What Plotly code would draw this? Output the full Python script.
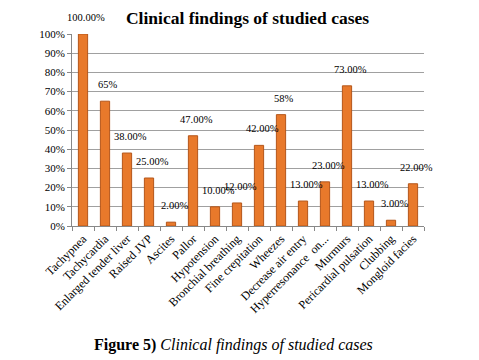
import plotly.graph_objects as go

categories = ["Tachypnea", "Tachycardia", "Enlarged tender liver", "Raised JVP", "Ascites",
              "Pallor", "Hypotension", "Bronchial breathing", "Fine crepitation", "Wheezes",
              "Decrease air entry", "Hyperresonance  on...", "Murmurs", "Pericardial pulsation",
              "Clubbing", "Mongloid facies"]
values = [100, 65, 38, 25, 2, 47, 10, 12, 42, 58, 13, 23, 73, 13, 3, 22]
labels = ["100.00%", "65%", "38.00%", "25.00%", "2.00%", "47.00%", "10.00%", "12.00%",
          "42.00%", "58%", "13.00%", "23.00%", "73.00%", "13.00%", "3.00%", "22.00%"]
yticks = [0, 10, 20, 30, 40, 50, 60, 70, 80, 90, 100]
yticklabels = [f"{v}%" for v in yticks]

serif = "Liberation Serif, Times New Roman, serif"

fig = go.Figure()
fig.add_trace(go.Bar(
    x=categories, y=values, width=0.42,
    marker=dict(color="#E8792B", line=dict(color="#B4561A", width=1)),
    hoverinfo="skip",
))

for c, v, t in zip(categories, values, labels):
    fig.add_annotation(x=c, y=v, text=t, showarrow=False, yanchor="bottom",
                       yshift=9, xshift=3, font=dict(family=serif, size=10.5, color="#000"))

fig.update_layout(
    width=479, height=360,
    margin=dict(l=64, r=63, t=26, b=142),
    paper_bgcolor="white", plot_bgcolor="white",
    showlegend=False,
    bargap=0.5,
    title=dict(text="<b>Clinical findings of studied cases</b>", x=0.5, xanchor="center",
               y=0.974, yanchor="middle", font=dict(family=serif, size=17.5, color="#000")),
    xaxis=dict(tickangle=-45, tickfont=dict(family=serif, size=12, color="#000"),
               showline=True, linecolor="#888", ticks="outside", tickson="boundaries",
               ticklen=4, tickcolor="#888", range=[-0.5, 15.5], automargin=False),
    yaxis=dict(range=[0, 100], tickvals=yticks, ticktext=yticklabels,
               tickfont=dict(family=serif, size=11, color="#000"),
               showgrid=True, gridcolor="#A0A0A0", gridwidth=1, automargin=False,
               showline=True, linecolor="#888", ticks="outside", ticklen=4, tickcolor="#888"),
)

fig.add_annotation(xref="paper", yref="paper", x=0.46, y=-0.62, xanchor="center",
                   yanchor="middle", showarrow=False,
                   text="<b>Figure 5)</b> <i>Clinical findings of studied cases</i>",
                   font=dict(family=serif, size=16, color="#000"))

fig.write_html("out.html")
